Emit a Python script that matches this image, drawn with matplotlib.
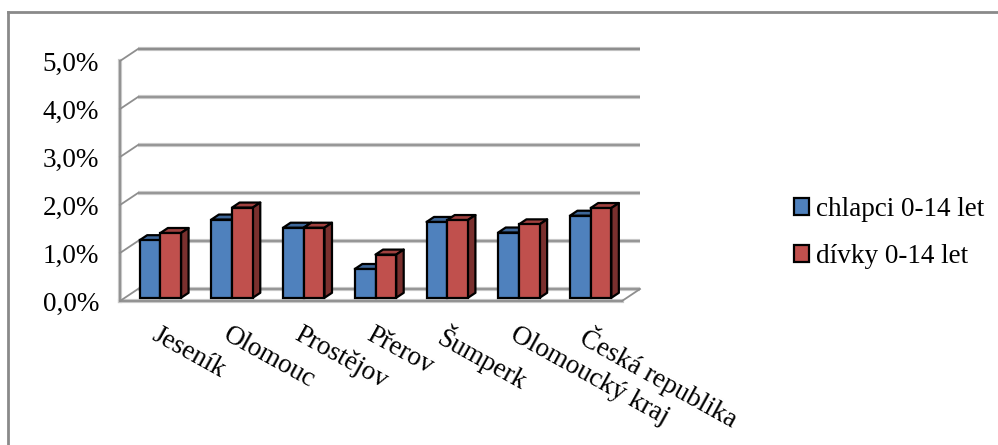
import matplotlib
matplotlib.use("Agg")
import matplotlib.pyplot as plt
from matplotlib.patches import Polygon, Patch
from matplotlib.lines import Line2D
import numpy as np

# ---- data -------------------------------------------------------------
categories = ["Jeseník", "Olomouc", "Prostějov", "Přerov", "Šumperk",
              "Olomoucký kraj", "Česká republika"]
chlapci = [1.20, 1.63, 1.46, 0.60, 1.58, 1.36, 1.71]
divky = [1.35, 1.88, 1.46, 0.90, 1.62, 1.53, 1.87]
series_names = ["chlapci 0-14 let", "dívky 0-14 let"]
y_ticks = [0, 1, 2, 3, 4, 5]
y_tick_labels = ["0,0%", "1,0%", "2,0%", "3,0%", "4,0%", "5,0%"]

# ---- style ------------------------------------------------------------
FONT = "Liberation Serif"
FS = 19.5
BLUE, BLUE_TOP, BLUE_SIDE = "#4F81BD", "#3E6799", "#2F4E75"
RED, RED_TOP, RED_SIDE = "#C0504D", "#A0413F", "#7A302E"
GRID_DARK, GRID_LIGHT = "#8E8E8E", "#C8C8C8"

W, H, DPI = 998, 445, 100
fig = plt.figure(figsize=(W / DPI, H / DPI), dpi=DPI)
fig.patch.set_facecolor("white")

# front plane of the 3-D box in pixels
px_l, px_r, px_top, px_bot = 120, 622, 61, 301
ax = fig.add_axes([px_l / W, 1 - px_bot / H, (px_r - px_l) / W,
                   (px_bot - px_top) / H])
ax.set_xlim(0, len(categories))
ax.set_ylim(0, 5)
for s in ax.spines.values():
    s.set_visible(False)
ax.set_xticks([])
ax.set_yticks(y_ticks)
ax.set_yticklabels(y_tick_labels, fontfamily=FONT, fontsize=FS)
ax.tick_params(axis="y", length=0, pad=15)

# pixel -> data conversion for the depth projection
ux = (px_r - px_l) / len(categories)   # px per category
uy = (px_bot - px_top) / 5.0           # px per percent
DX, DY = 18 / ux, 12 / uy              # full depth of the box
OX, OY = 4.5 / ux, 3.2 / uy            # bar front offset into the box
BX, BY = 7.5 / ux, 5.0 / uy            # bar depth

# walls / gridlines
for k in y_ticks:
    ax.plot([DX, len(categories) + DX], [k + DY, k + DY], color=GRID_LIGHT,
            lw=3.0, clip_on=False, zorder=1, solid_capstyle="butt")
    ax.plot([DX, len(categories) + DX], [k + DY, k + DY], color=GRID_DARK,
            lw=1.6 if k == 5 else 1.2, clip_on=False, zorder=1.1,
            solid_capstyle="butt")
    ax.plot([0, DX], [k, k + DY], color=GRID_DARK, lw=1.3, clip_on=False,
            zorder=1.1)
ax.plot([0, 0], [0, 5], color=GRID_LIGHT, lw=3.0, clip_on=False, zorder=1)
ax.plot([0, 0], [0, 5], color=GRID_DARK, lw=1.3, clip_on=False, zorder=1.1)
# floor
ax.plot([0, len(categories)], [0, 0], color=GRID_LIGHT, lw=3.0,
        clip_on=False, zorder=1)
ax.plot([0, len(categories)], [0, 0], color=GRID_DARK, lw=1.3,
        clip_on=False, zorder=1.1)
ax.plot([len(categories), len(categories) + DX], [0, DY], color=GRID_DARK,
        lw=1.3, clip_on=False, zorder=1.1)

# bars
bw = 20.7 / ux
x = np.arange(len(categories)) + 0.5 + OX
series = [(chlapci, BLUE, BLUE_TOP, BLUE_SIDE, -bw / 2),
          (divky, RED, RED_TOP, RED_SIDE, bw / 2)]
z = 3
for i in range(len(categories)):
    for vals, c, ctop, cside, shift in series:
        v = vals[i]
        xc = x[i] + shift
        xl, xr = xc - bw / 2, xc + bw / 2
        ax.bar(xc, v, width=bw, bottom=OY, color=c, edgecolor="black",
               linewidth=1.6, zorder=z, clip_on=False)
        top = [(xl, v + OY), (xr, v + OY), (xr + BX, v + OY + BY),
               (xl + BX, v + OY + BY)]
        side = [(xr, OY), (xr, v + OY), (xr + BX, v + OY + BY),
                (xr + BX, OY + BY)]
        for poly, fc in ((top, ctop), (side, cside)):
            ax.add_patch(Polygon(poly, closed=True, facecolor=fc,
                                 edgecolor="black", linewidth=1.6,
                                 joinstyle="round", zorder=z - 0.5,
                                 clip_on=False))
        z += 1

# category labels
for i, name in enumerate(categories):
    ax.text(i + 0.5 + 0.05, -0.44, name, rotation=-29,
            rotation_mode="anchor", ha="left", va="top",
            fontfamily=FONT, fontsize=FS, clip_on=False)

# legend
handles = [Patch(facecolor=BLUE, edgecolor="black", linewidth=1.6),
           Patch(facecolor=RED, edgecolor="black", linewidth=1.6)]
fig.legend(handles, series_names, loc="center left",
           bbox_to_anchor=(794 / W, 1 - 233 / H), frameon=False,
           prop={"family": FONT, "size": FS}, handlelength=0.56,
           handleheight=0.56, handletextpad=0.25, labelspacing=0.8,
           borderaxespad=0, borderpad=0)

# outer chart frame (top and left edges)
fig.add_artist(Line2D([8 / W, 1.0], [1 - 12 / H, 1 - 12 / H],
                      transform=fig.transFigure, color="#8A8A8A", lw=2.0))
fig.add_artist(Line2D([8 / W, 8 / W], [0.0, 1 - 12 / H],
                      transform=fig.transFigure, color="#8A8A8A", lw=2.0))

fig.savefig("out.png", dpi=DPI, facecolor="white")
